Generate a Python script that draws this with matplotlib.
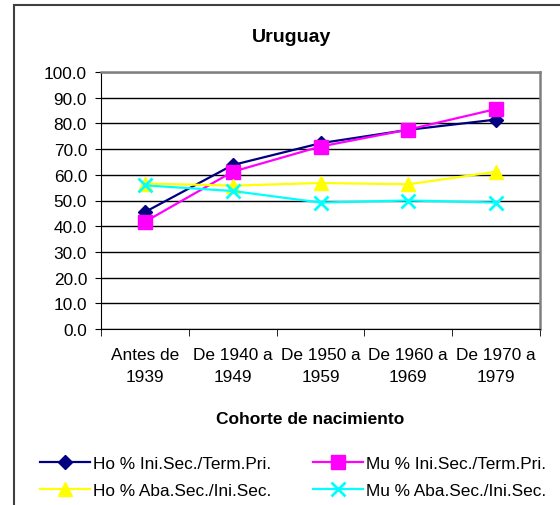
import matplotlib.pyplot as plt
from matplotlib.patches import Rectangle
import numpy as np

plt.rcParams['font.family'] = ['Liberation Sans', 'DejaVu Sans']

# Data
cohortes = ["Antes de\n1939", "De 1940 a\n1949", "De 1950 a\n1959", "De 1960 a\n1969", "De 1970 a\n1979"]
ho_ini_sec = [45.5, 63.8, 72.3, 77.5, 81.5]
mu_ini_sec = [41.7, 61.2, 71.0, 77.6, 85.6]
ho_aba_sec = [56.6, 55.8, 56.8, 56.3, 61.2]
mu_aba_sec = [55.9, 53.7, 49.2, 50.0, 49.2]
labels = ["Ho % Ini.Sec./Term.Pri.", "Mu % Ini.Sec./Term.Pri.",
          "Ho % Aba.Sec./Ini.Sec.", "Mu % Aba.Sec./Ini.Sec."]

fig = plt.figure(figsize=(5.6, 5.06), dpi=100)
ax = fig.add_axes([101 / 560, 1 - 330 / 506, 439 / 560, 257 / 506])

x = np.arange(len(cohortes))
l1, = ax.plot(x, ho_ini_sec, color='#000080', marker='D', markersize=7, lw=1.6)
l2, = ax.plot(x, mu_ini_sec, color='#FF00FF', marker='s', markersize=9.5, lw=1.6)
l3, = ax.plot(x, ho_aba_sec, color='#FFFF00', marker='^', markersize=10, lw=1.6)
l4, = ax.plot(x, mu_aba_sec, color='#00FFFF', marker='x', markersize=9.5, mew=2, lw=1.6)

ax.set_xlim(-0.5, len(cohortes) - 0.5)
ax.set_ylim(0, 100)
ax.set_yticks(np.arange(0, 101, 10))
ax.set_yticklabels([f"{v:.1f}" for v in np.arange(0, 101, 10)], fontsize=12.4)
ax.yaxis.grid(True, color='black', lw=1)
ax.set_axisbelow(True)

ax.set_xticks(x)
ax.set_xticklabels(cohortes, fontsize=12.4, linespacing=1.55)
ax.tick_params(axis='x', length=0, pad=13)
ax.set_xticks(np.arange(-0.5, len(cohortes), 1), minor=True)
ax.tick_params(axis='x', which='minor', length=5, direction='out', color='black')
ax.tick_params(axis='y', length=4.5, direction='out', pad=5.5)

for s in ['left', 'bottom']:
    ax.spines[s].set_color('black')
for s in ['top', 'right']:
    ax.spines[s].set_color('#808080')
    ax.spines[s].set_linewidth(1.8)

fig.text(292 / 560, 1 - 37 / 506, "Uruguay", ha='center', va='center', fontsize=14, fontweight='bold')
fig.text(310 / 560, 1 - 420 / 506, "Cohorte de nacimiento", ha='center', va='center',
         fontsize=12.5, fontweight='bold')

# Outer chart border (left and top only visible)
fig.add_artist(Rectangle((14 / 560, -0.1), 1.2, 1 - 6 / 506 + 0.1, transform=fig.transFigure,
                         fill=False, edgecolor='#404040', lw=1.5))

fig.legend([l1, l3, l2, l4], [labels[0], labels[2], labels[1], labels[3]],
           loc='center', bbox_to_anchor=(293 / 560, 1 - 478 / 506),
           ncol=2, frameon=False, fontsize=12.4, handlelength=2.9, handletextpad=0.18,
           columnspacing=2.45, labelspacing=0.72, borderpad=0)

fig.savefig("out.png", dpi=100)
